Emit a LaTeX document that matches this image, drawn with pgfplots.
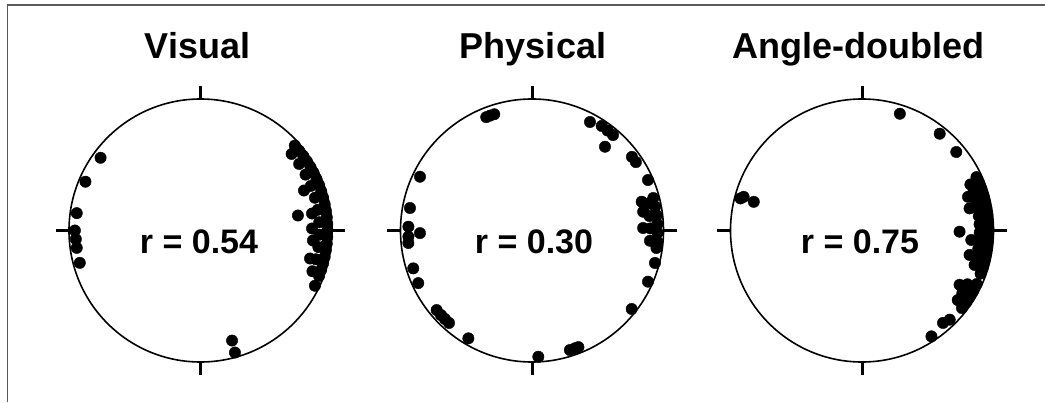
\documentclass[border=0pt]{standalone}
\usepackage{fontspec}
\setmainfont{Liberation Sans}
\usepackage{pgfplots}
\pgfplotsset{compat=1.18}
\pgfplotsset{
  circ/.style={
    x=131.5pt, y=131.5pt,
    xmin=-1.2, xmax=1.2, ymin=-1.2, ymax=1.2,
    hide axis, clip=false, anchor=center,
  },
  dots/.style={only marks, mark=*, mark size=5.7pt, black, mark options={fill=black, draw=black}},
}
\newcommand{\frameparts}{%
  \draw[line width=1.6pt] (axis cs:0,0) circle[radius=1];
  \draw[line width=3pt] (axis cs:0,1) -- (axis cs:0,1.1);
  \draw[line width=3pt] (axis cs:0,-1) -- (axis cs:0,-1.1);
  \draw[line width=3pt] (axis cs:-1,0) -- (axis cs:-1.1,0);
  \draw[line width=3pt] (axis cs:1,0) -- (axis cs:1.1,0);
}
\begin{document}
\begin{tikzpicture}
\path[use as bounding box] (0,0) rectangle (1045pt,402pt);
\draw[line width=1.6pt, color=black!65] (7.5pt,0pt) -- (7.5pt,397pt) -- (1045pt,397pt);

% ---------- Visual ----------
\begin{axis}[circ, at={(200.5pt,171.5pt)}]
\frameparts
\addplot[dots] coordinates {
(-0.760,0.553) (-0.875,0.371) (-0.941,0.132) (-0.955,0.000) (-0.948,-0.066)
(-0.941,-0.132) (-0.918,-0.246)
(0.240,-0.837) (0.262,-0.928)
(0.787,0.304) (0.741,0.114) (0.848,0.129) (0.848,0.015) (0.855,-0.076) (0.833,-0.213) (0.870,-0.420)
(0.717,0.646) (0.750,0.607) (0.781,0.567) (0.809,0.526) (0.836,0.483) (0.860,0.438)
(0.882,0.392) (0.901,0.346) (0.918,0.298) (0.932,0.250) (0.944,0.201) (0.953,0.151)
(0.960,0.101) (0.964,0.050) (0.965,0.000) (0.964,-0.050) (0.960,-0.101) (0.953,-0.151)
(0.944,-0.201) (0.932,-0.250) (0.918,-0.298) (0.901,-0.346)
(0.693,0.582) (0.750,0.506) (0.799,0.425) (0.839,0.339) (0.870,0.249) (0.891,0.157)
(0.903,0.063) (0.904,-0.032) (0.896,-0.126) (0.878,-0.219) (0.851,-0.310)
};
\end{axis}

% ---------- Physical ----------
\begin{axis}[circ, at={(532pt,171.5pt)}]
\frameparts
\addplot[dots] coordinates {
(-0.287,0.884) (-0.318,0.874) (-0.348,0.862)
(0.441,0.825) (0.530,0.795) (0.616,0.726) (0.555,0.637) (0.575,0.760)
(0.760,0.560) (0.790,0.520) (0.882,0.384) (0.834,0.219) (0.845,0.143) (0.845,0.019)
(0.922,0.247) (0.937,0.182) (0.948,0.116) (0.954,0.050) (0.955,-0.017) (0.951,-0.083) (0.946,-0.133)
(0.877,0.202) (0.893,0.110) (0.900,0.016) (0.897,-0.078)
(0.935,-0.247) (0.882,-0.389) (0.758,-0.597)
(0.048,-0.960) (0.288,-0.909) (0.326,-0.896) (0.353,-0.887)
(-0.484,-0.820) (-0.725,-0.605) (-0.692,-0.643) (-0.662,-0.673) (-0.631,-0.703)
(-0.852,0.409) (-0.928,0.171) (-0.940,0.029) (-0.940,-0.047) (-0.940,-0.095)
(-0.852,-0.020) (-0.903,-0.288) (-0.865,-0.400)
};
\end{axis}

% ---------- Angle-doubled ----------
\begin{axis}[circ, at={(862pt,171.5pt)}]
\frameparts
\addplot[dots] coordinates {
(0.288,0.888) (0.591,0.736) (0.717,0.597)
(-0.924,0.244) (-0.900,0.256) (-0.823,0.218)
(0.870,0.406) (0.890,0.360) (0.908,0.313) (0.923,0.265) (0.935,0.216) (0.945,0.167)
(0.953,0.117) (0.958,0.067) (0.960,0.017) (0.959,-0.034) (0.956,-0.084) (0.951,-0.134)
(0.942,-0.183) (0.931,-0.232) (0.918,-0.281) (0.902,-0.328)
(0.824,0.350) (0.847,0.291) (0.864,0.232) (0.879,0.171) (0.888,0.109) (0.894,0.047)
(0.895,-0.016) (0.892,-0.078) (0.884,-0.140) (0.872,-0.201) (0.856,-0.262)
(0.806,0.256) (0.818,0.168) (0.742,-0.009) (0.831,-0.072) (0.818,-0.186) (0.742,-0.413)
(0.872,-0.407) (0.843,-0.464) (0.820,-0.503) (0.793,-0.545) (0.760,-0.590)
(0.802,-0.409) (0.763,-0.477) (0.728,-0.529)
(0.667,-0.678) (0.616,-0.703) (0.528,-0.805)
};
\end{axis}

% ---------- texts ----------
\begin{scope}[every node/.style={anchor=base, inner sep=0pt, font=\bfseries\fontsize{36}{40}\selectfont}]
\node at (197.5pt,343.7pt) {Visual};
\node at (533pt,343.7pt) {Physical};
\node at (858pt,343.7pt) {Angle-doubled};
\end{scope}
\begin{scope}[every node/.style={anchor=base, inner sep=0pt, font=\bfseries\fontsize{34}{40}\selectfont}]
\node at (199pt,148.7pt) {r = 0.54};
\node at (534pt,148.7pt) {r = 0.30};
\node at (860pt,148.7pt) {r = 0.75};
\end{scope}
\end{tikzpicture}
\end{document}
